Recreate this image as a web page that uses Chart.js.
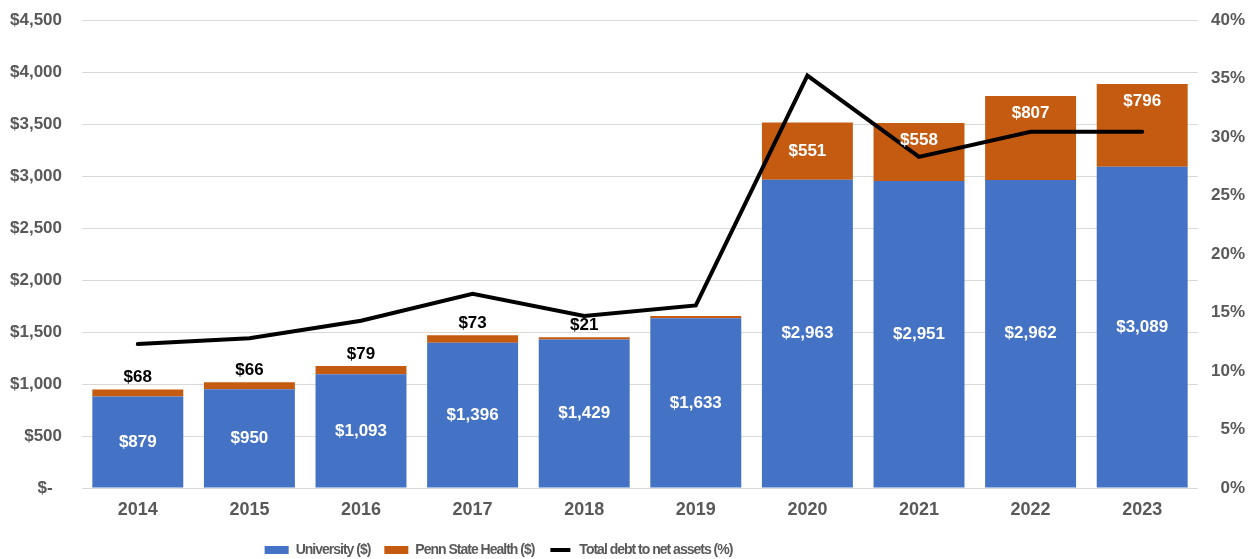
<!DOCTYPE html>
<html>
<head>
<meta charset="utf-8">
<script src="https://cdn.jsdelivr.net/npm/chart.js@4/dist/chart.umd.min.js"></script>
<style>
	html, body { margin: 0; padding: 0; background: #fff; }
	#wrap { width: 1256px; height: 559px; }
</style>
</head>
<body>
<div id="wrap"><canvas id="chart-1" width="1256" height="559"></canvas></div>
<script>
const years = ["2014", "2015", "2016", "2017", "2018", "2019", "2020", "2021", "2022", "2023"];
const universityDebt = [879, 950, 1093, 1396, 1429, 1633, 2963, 2951, 2962, 3089];
const healthDebt = [68, 66, 79, 73, 21, 20, 551, 558, 807, 796];
// where the Penn State Health label sits: above the bar, centred, near the top inside, or not shown
const healthLabelSpot = ["above", "above", "above", "above", "above", "none", "center", "top", "top", "top"];
const debtRatio = [12.3, 12.8, 14.3, 16.6, 14.7, 15.6, 35.25, 28.3, 30.45, 30.45];

const gray = "#595959";
const fontFamily = '"Liberation Sans", Arial, sans-serif';
Chart.defaults.font.family = fontFamily;
Chart.defaults.color = gray;

function money(v) {
	return "$" + Math.round(v).toLocaleString("en-US");
}

const barLabels = {
	id: "barLabels",
	afterDatasetsDraw(chart) {
		const ctx = chart.ctx;
		const uni = chart.getDatasetMeta(0).data;
		const psh = chart.getDatasetMeta(1).data;
		ctx.save();
		ctx.font = "bold 17px " + fontFamily;
		ctx.textAlign = "center";
		ctx.textBaseline = "middle";
		uni.forEach((bar, i) => {
			ctx.fillStyle = "#fff";
			ctx.fillText(money(universityDebt[i]), bar.x, (bar.y + bar.base) / 2);
		});
		psh.forEach((bar, i) => {
			const spot = healthLabelSpot[i];
			const text = money(healthDebt[i]);
			if (spot == "center") {
				ctx.fillStyle = "#fff";
				ctx.fillText(text, bar.x, (bar.y + bar.base) / 2);
			} else if (spot == "top") {
				ctx.fillStyle = "#fff";
				ctx.fillText(text, bar.x, bar.y + 17);
			} else if (spot == "above") {
				ctx.fillStyle = "#000";
				ctx.fillText(text, bar.x, bar.y - 12);
			}
		});
		ctx.restore();
	}
};

// legend text in the reference is condensed, and the legend sits left of centre
const legendTweaks = {
	id: "legendTweaks",
	afterInit(chart) {
		const legend = chart.legend;
		const ctx = chart.ctx;
		for (const fn of ["fit", "draw"]) {
			const orig = legend[fn];
			legend[fn] = function(...args) {
				ctx.save();
				ctx.letterSpacing = "-1px";
				const r = orig.apply(this, args);
				ctx.restore();
				return r;
			};
		}
	},
	afterLayout(chart) {
		chart.legend.left -= 124;
		chart.legend.right -= 124;
	}
};

function fixedPadding(scale) {
	scale.paddingTop = 10;
	scale.paddingBottom = 0;
}

new Chart("chart-1", {
	type: "bar",
	data: {
		labels: years,
		datasets: [
			{label: "University ($)", data: universityDebt, backgroundColor: "#4472C4", order: 1, yAxisID: "y"},
			{label: "Penn State Health ($)", data: healthDebt, backgroundColor: "#C55A11", order: 2, yAxisID: "y"},
			{
				type: "line",
				label: "Total debt to net assets (%)",
				data: debtRatio,
				borderColor: "#000",
				backgroundColor: "#000",
				borderWidth: 4,
				borderCapStyle: "round",
				pointRadius: 0,
				tension: 0,
				order: 0,
				yAxisID: "y1"
			}
		]
	},
	options: {
		responsive: false,
		animation: false,
		layout: {padding: {top: 20, right: 11, left: 0, bottom: 0}},
		datasets: {bar: {categoryPercentage: 1, barPercentage: 0.815}},
		plugins: {
			tooltip: {enabled: false},
			legend: {
				position: "bottom",
				maxHeight: 30,
				labels: {
					boxWidth: 24,
					boxHeight: 8,
					padding: 14,
					color: gray,
					font: {size: 14, weight: "bold"},
					sort: (a, b) => a.datasetIndex - b.datasetIndex,
					generateLabels: (chart) => {
						const items = Chart.defaults.plugins.legend.labels.generateLabels(chart);
						for (const item of items) {
							if (item.datasetIndex == 2) {
								item.fillStyle = "#000";
								item.strokeStyle = "#fff";
								item.lineWidth = 4;
							} else {
								item.lineWidth = 0;
							}
						}
						return items;
					}
				}
			}
		},
		scales: {
			x: {
				stacked: true,
				grid: {display: false, drawTicks: false},
				border: {display: false},
				ticks: {padding: 11, color: gray, font: {size: 18, weight: "bold"}},
				afterFit: (scale) => { scale.height = 41; }
			},
			y: {
				stacked: true,
				position: "left",
				min: 0,
				max: 4500,
				ticks: {
					stepSize: 500,
					padding: 20,
					color: gray,
					font: {size: 17, weight: "bold"},
					callback: (v) => v === 0 ? "$-  " : money(v)
				},
				grid: {color: "#d9d9d9", lineWidth: 1, drawTicks: false},
				border: {display: false},
				afterFit: (scale) => { scale.width = 82; fixedPadding(scale); }
			},
			y1: {
				position: "right",
				min: 0,
				max: 40,
				ticks: {
					stepSize: 5,
					padding: 2,
					crossAlign: "far",
					color: gray,
					font: {size: 17, weight: "bold"},
					callback: (v) => v + "%"
				},
				grid: {display: false, drawTicks: false},
				border: {display: false},
				afterFit: (scale) => { scale.width = 47; fixedPadding(scale); }
			}
		}
	},
	plugins: [barLabels, legendTweaks]
});
</script>
</body>
</html>
